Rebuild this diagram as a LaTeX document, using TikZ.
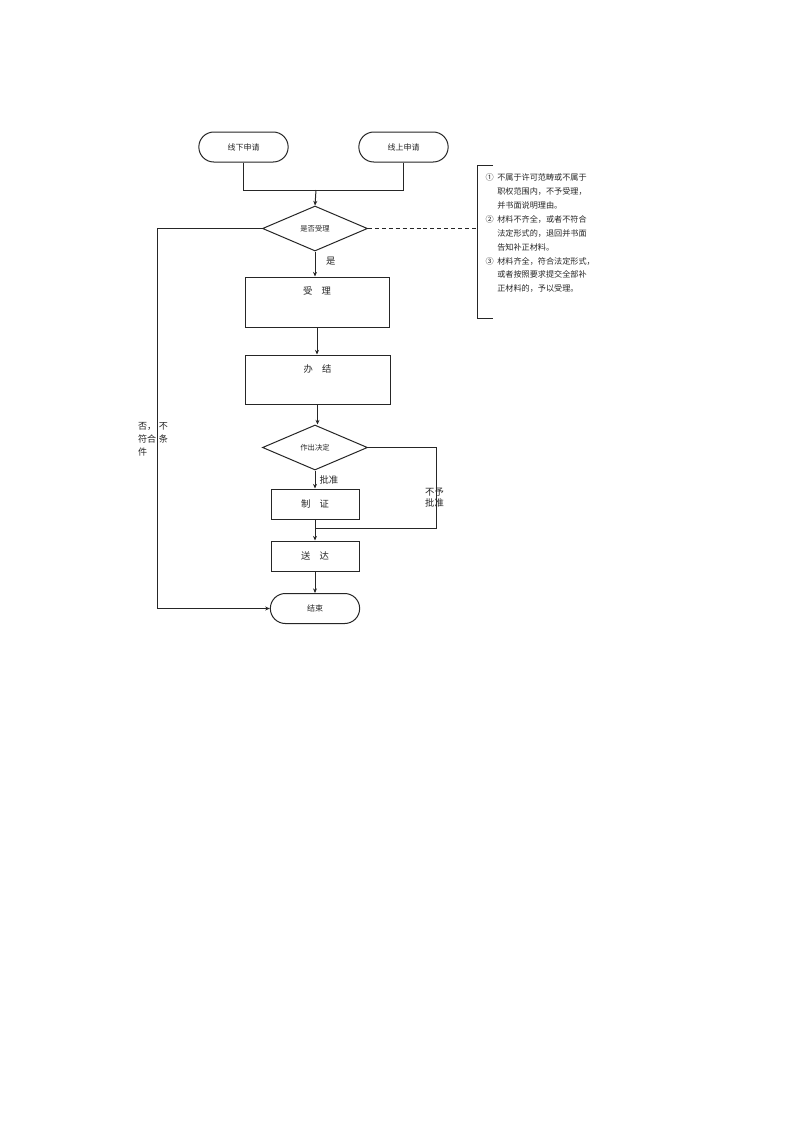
\documentclass[tikz,border=0pt]{standalone}
\usepackage{fontspec}
\setmainfont{Noto Sans CJK SC}
\usetikzlibrary{arrows.meta,shapes.geometric,shapes.misc}
\begin{document}
\begin{tikzpicture}[x=0.75pt,y=-0.75pt,
  line width=0.75pt, draw=black!85,
  every node/.style={text=black!85},
  term/.style={draw, rounded rectangle, minimum width=67pt, minimum height=22.5pt, inner sep=0pt, font=\fontsize{6pt}{7pt}\selectfont},
  proc/.style={draw, rectangle, inner sep=0pt},
  dec/.style={draw, diamond, aspect=2.33, minimum width=78.75pt, minimum height=33.75pt, inner sep=0pt, font=\fontsize{5.5pt}{6pt}\selectfont},
  lbl/.style={font=\fontsize{7pt}{8pt}\selectfont, inner sep=0pt},
  arr/.style={-{Stealth[length=3.5pt,width=3pt]}}]
\useasboundingbox (0,0) rectangle (793,1122);
\fill[white] (0,0) rectangle (793,1122);

\node[term] (off) at (243.5,147) {线下申请};
\node[term] (on) at (403.5,147) {线上申请};
\node[dec] (d1) at (315,228.5) {是否受理};
\node[proc, minimum width=108pt, minimum height=37.5pt,
  label={[lbl, anchor=north, yshift=-7pt]north:受\quad 理}] (acc) at (317,302) {};
\node[proc, minimum width=108.75pt, minimum height=36.75pt,
  label={[lbl, anchor=north, yshift=-7pt]north:办\quad 结}] (fin) at (317.5,379.5) {};
\node[dec] (d2) at (315,447.5) {作出决定};
\node[proc, minimum width=66pt, minimum height=22.5pt, font=\fontsize{7pt}{8pt}\selectfont] (cert) at (315,504) {制\quad 证};
\node[proc, minimum width=66pt, minimum height=22.5pt, font=\fontsize{7pt}{8pt}\selectfont] (send) at (315,556) {送\quad 达};
\node[term] (end) at (315,608.5) {结束};

% merge
\coordinate (m) at (316,190);
\draw (off.south) |- (m);
\draw (on.south) |- (m);
\draw[arr] (m) -- (d1.north);

% reject path
\coordinate (lt) at (157,228.5);
\coordinate (lb) at (157,608.5);
\draw[arr] (d1.west) -- (lt) -- (lb) -- (end.west);
\node[lbl, align=left, anchor=north west, font=\fontsize{6.8pt}{10pt}\selectfont] (rej) at (137.5,421.5) {否，\hspace{2pt}不\\符合\hspace{2pt}条\\件};

% notes
\coordinate (bt) at (493,165);
\coordinate (btl) at (477,165);
\coordinate (bbl) at (477,318);
\coordinate (bb) at (493,318);
\coordinate (dm) at (477,228.5);
\draw[dashed, dash pattern=on 3pt off 2.2pt] (d1.east) -- (dm);
\draw (bt) -- (btl) -- (bbl) -- (bb);
\node[anchor=north west, align=left, inner sep=0pt, font=\fontsize{6.1pt}{10.4pt}\selectfont] (notes) at (485,173.5)
{①\ \ 不属于许可范畴或不属于\\
\hphantom{①\ \ }职权范围内，不予受理，\\
\hphantom{①\ \ }并书面说明理由。\\
②\ \ 材料不齐全，或者不符合\\
\hphantom{①\ \ }法定形式的，退回并书面\\
\hphantom{①\ \ }告知补正材料。\\
③\ \ 材料齐全，符合法定形式，\\
\hphantom{①\ \ }或者按照要求提交全部补\\
\hphantom{①\ \ }正材料的，予以受理。};

% main flow
\draw[arr] (d1.south) -- node[lbl, right, xshift=8pt, pos=0.4] {是} (d1.south |- acc.north);
\draw[arr] (acc.south) -- (acc.south |- fin.north);
\draw[arr] (fin.south) -- (fin.south |- d2.north);
\draw[arr] (d2.south) -- node[lbl, right, xshift=3pt, pos=0.55] {批准} (d2.south |- cert.north);
\draw[arr] (cert.south) -- (send.north);
\draw[arr] (send.south) -- (end.north);

% not approved
\coordinate (rr) at (436,528);
\coordinate (rj) at (316,528);
\draw (d2.east) -| (rr) -- (rj);
\node[lbl, align=center] (na) at (434.5,497.5) {不予\\批准};
\end{tikzpicture}
\end{document}
